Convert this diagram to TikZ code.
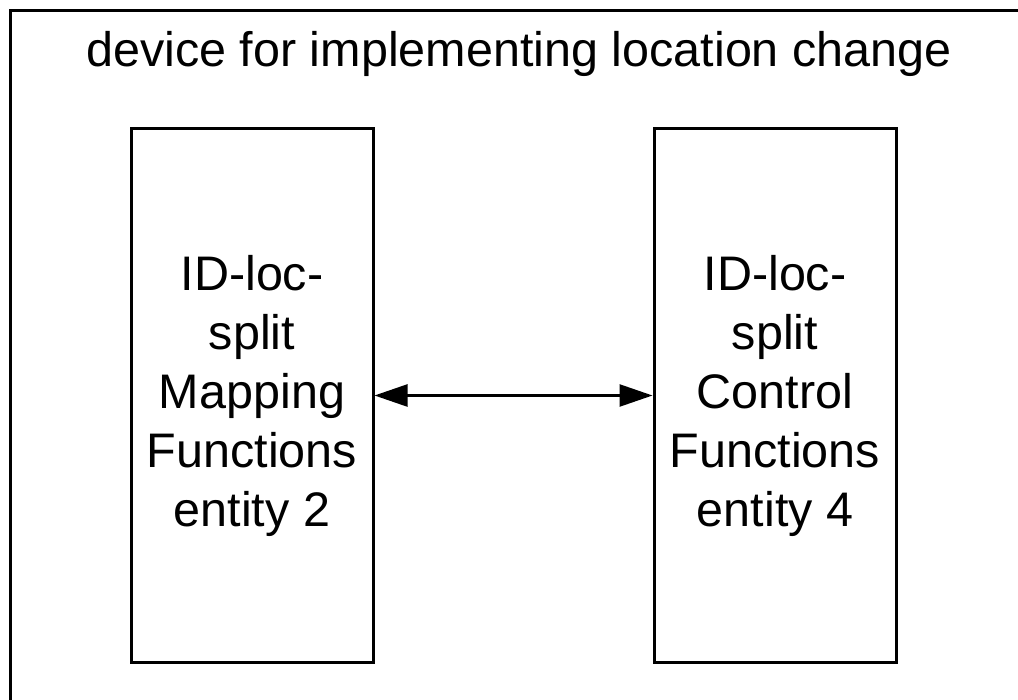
\documentclass[tikz,border=0pt]{standalone}
\usepackage{fontspec}
\setmainfont{Liberation Sans}
\usetikzlibrary{arrows.meta}
\begin{document}
\begin{tikzpicture}[x=1pt,y=-1pt,
  frame/.style={draw=black,line width=3pt},
  entitybox/.style={draw=black,line width=3pt,minimum width=242pt,minimum height=533pt,inner sep=0pt,
    align=center,font=\fontsize{48.5}{59}\selectfont},
  link/.style={line width=2.5pt,{Triangle[length=33pt,width=22pt]}-{Triangle[length=33pt,width=22pt]}}]
\useasboundingbox (0,0) rectangle (1018,700);
\clip (0,0) rectangle (1018,700);
\draw[frame] (10.5,10.5) rectangle (1040,720);
\node[font=\fontsize{48.5}{58}\selectfont,anchor=base] (title) at (519,67) {device for implementing location change};
\node[entitybox] (map) at (252,395.5) {ID-loc-\\split\\Mapping\\Functions\\entity 2};
\node[entitybox] (ctl) at (775,395.5) {ID-loc-\\split\\Control\\Functions\\entity 4};
\draw[link] (map.east) -- (ctl.west);
\end{tikzpicture}
\end{document}
